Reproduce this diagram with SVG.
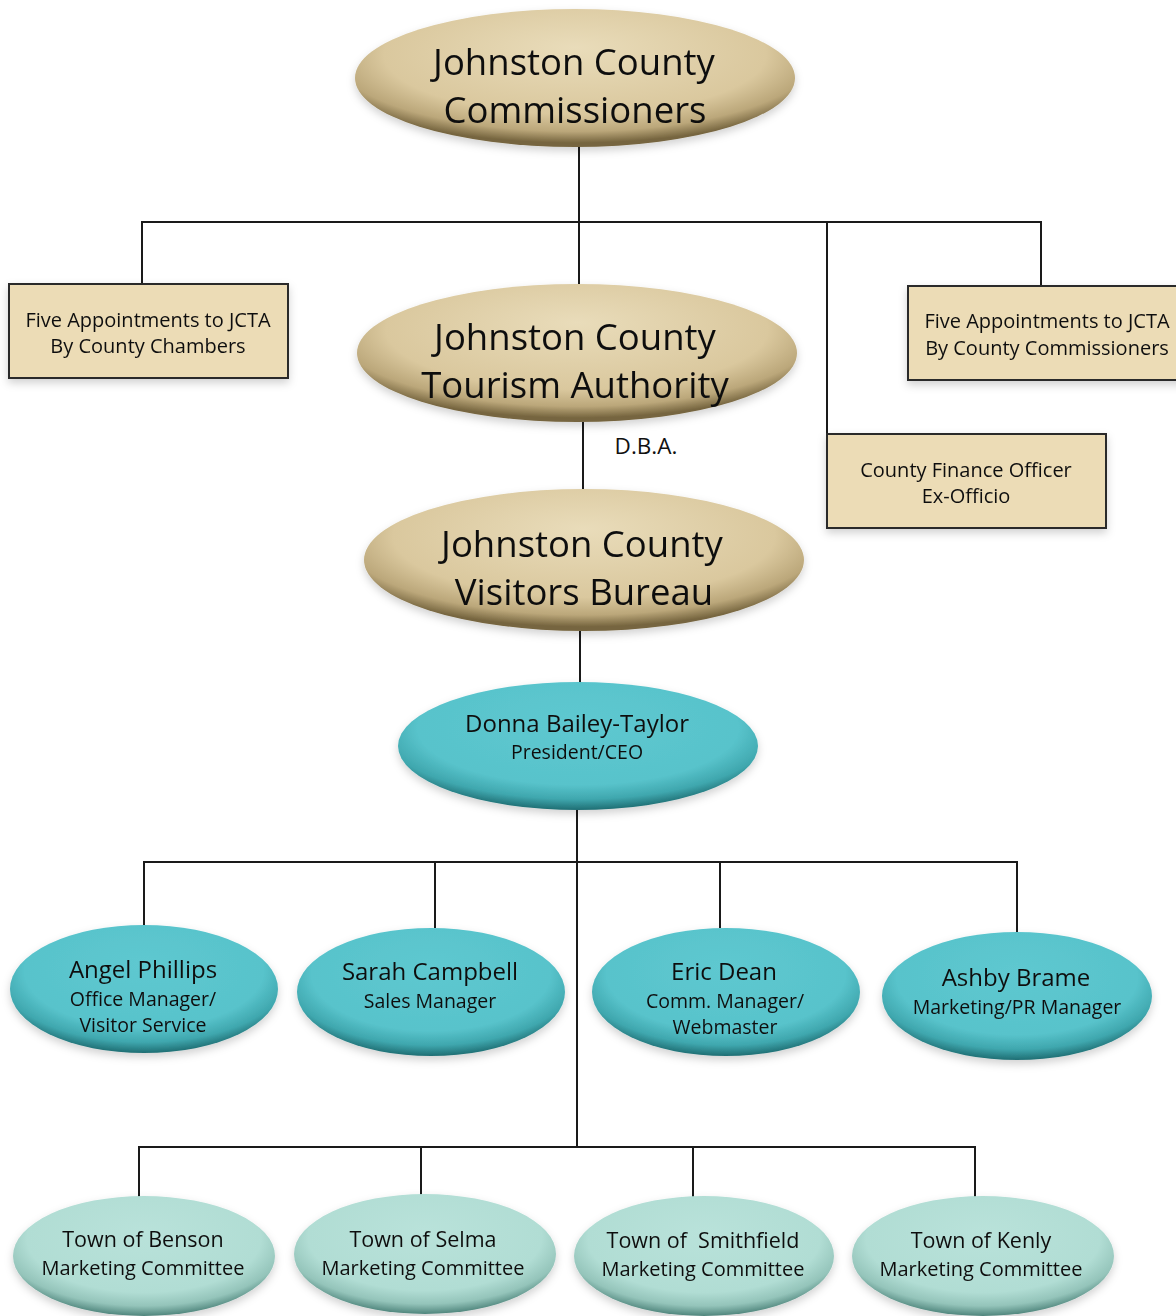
<svg xmlns="http://www.w3.org/2000/svg" width="1176" height="1316" viewBox="0 0 1176 1316">
<defs>
<radialGradient id="gTan" cx="0.5" cy="0.35" r="0.62" fx="0.5" fy="0.28">
<stop offset="0" stop-color="#e9dcba"/>
<stop offset="0.7" stop-color="#dac89e"/>
<stop offset="0.88" stop-color="#bba77a"/>
<stop offset="1" stop-color="#76653f"/>
</radialGradient>
<radialGradient id="gCyan" cx="0.5" cy="0.38" r="0.62" fx="0.5" fy="0.3">
<stop offset="0" stop-color="#5ec8d0"/>
<stop offset="0.72" stop-color="#58c3cb"/>
<stop offset="0.88" stop-color="#3fa7ae"/>
<stop offset="1" stop-color="#1f6e73"/>
</radialGradient>
<radialGradient id="gTeal" cx="0.5" cy="0.38" r="0.62" fx="0.5" fy="0.3">
<stop offset="0" stop-color="#b9e2da"/>
<stop offset="0.72" stop-color="#b1ddd4"/>
<stop offset="0.88" stop-color="#94c4ba"/>
<stop offset="1" stop-color="#4f857c"/>
</radialGradient>
<filter id="sh" x="-10%" y="-10%" width="120%" height="130%">
<feDropShadow dx="0" dy="4" stdDeviation="4" flood-color="#000" flood-opacity="0.18"/>
</filter>
</defs>
<style>
.ln{stroke:#1a1a1a;stroke-width:2;fill:none}
.box{fill:#ecdcb6;stroke:#2a2a2a;stroke-width:2}
.tan{fill:url(#gTan)}
.cy{fill:url(#gCyan)}
.tl{fill:url(#gTeal)}
text{font-family:"Open Sans","Noto Sans","Liberation Sans",sans-serif;fill:#111;text-anchor:middle}
.big{font-size:36.5px}
.bx{font-size:20px}
.nm{font-size:24px}
.rl{font-size:19.5px}
.tn{font-size:21.5px}
.mc{font-size:20px}
</style>
<rect width="1176" height="1316" fill="#ffffff"/>
<g id="connectors">
<path class="ln" d="M579 146V284M142 284V222H1041V286M827 222V434"/>
<path class="ln" d="M583 422V489"/>
<path class="ln" d="M580 631V683"/>
<path class="ln" d="M577 810V1147M144 926V862H1017V932M435 862V928M720 862V928"/>
<path class="ln" d="M139 1198V1147H975V1198M421 1147V1196M693 1147V1198"/>
</g>
<g id="commissioners" filter="url(#sh)">
<ellipse class="tan" cx="575" cy="78" rx="220" ry="69"/>
<text class="big" x="574" y="75">Johnston County</text>
<text class="big" x="575" y="123">Commissioners</text>
</g>
<g id="chambers" filter="url(#sh)">
<rect class="box" x="9" y="284" width="279" height="94"/>
<text class="bx" x="148" y="327">Five Appointments to JCTA</text>
<text class="bx" x="148" y="353">By County Chambers</text>
</g>
<g id="commissioners-appointments" filter="url(#sh)">
<rect class="box" x="908" y="286" width="280" height="94"/>
<text class="bx" x="1047" y="328">Five Appointments to JCTA</text>
<text class="bx" x="1047" y="355">By County Commissioners</text>
</g>
<g id="finance" filter="url(#sh)">
<rect class="box" x="827" y="434" width="279" height="94"/>
<text class="bx" x="966" y="477">County Finance Officer</text>
<text class="bx" x="966" y="503">Ex-Officio</text>
</g>
<g id="tourism" filter="url(#sh)">
<ellipse class="tan" cx="577" cy="353" rx="220" ry="69"/>
<text class="big" x="575" y="350">Johnston County</text>
<text class="big" x="575" y="398">Tourism Authority</text>
</g>
<text id="dba" x="646" y="454" style="font-size:22.5px">D.B.A.</text>
<g id="visitors" filter="url(#sh)">
<ellipse class="tan" cx="584" cy="560" rx="220" ry="71"/>
<text class="big" x="582" y="557">Johnston County</text>
<text class="big" x="584" y="605">Visitors Bureau</text>
</g>
<g id="donna" filter="url(#sh)">
<ellipse class="cy" cx="578" cy="746" rx="180" ry="64"/>
<text class="nm" x="577" y="732">Donna Bailey-Taylor</text>
<text class="rl" x="577" y="759">President/CEO</text>
</g>
<g id="angel" filter="url(#sh)">
<ellipse class="cy" cx="144" cy="989" rx="134" ry="64"/>
<text class="nm" x="143" y="978">Angel Phillips</text>
<text class="rl" x="143" y="1006">Office Manager/</text>
<text class="rl" x="143" y="1032">Visitor Service</text>
</g>
<g id="sarah" filter="url(#sh)">
<ellipse class="cy" cx="431" cy="992" rx="134" ry="64"/>
<text class="nm" x="430" y="980">Sarah Campbell</text>
<text class="rl" x="430" y="1008">Sales Manager</text>
</g>
<g id="eric" filter="url(#sh)">
<ellipse class="cy" cx="726" cy="992" rx="134" ry="64"/>
<text class="nm" x="724" y="980">Eric Dean</text>
<text class="rl" x="725" y="1008">Comm. Manager/</text>
<text class="rl" x="725" y="1034">Webmaster</text>
</g>
<g id="ashby" filter="url(#sh)">
<ellipse class="cy" cx="1017" cy="996" rx="135" ry="64"/>
<text class="nm" x="1016" y="986">Ashby Brame</text>
<text class="rl" x="1017" y="1014">Marketing/PR Manager</text>
</g>
<g id="benson" filter="url(#sh)">
<ellipse class="tl" cx="144" cy="1256" rx="131" ry="60"/>
<text class="tn" x="143" y="1247">Town of Benson</text>
<text class="mc" x="143" y="1275">Marketing Committee</text>
</g>
<g id="selma" filter="url(#sh)">
<ellipse class="tl" cx="425" cy="1254" rx="131" ry="60"/>
<text class="tn" x="423" y="1247">Town of Selma</text>
<text class="mc" x="423" y="1275">Marketing Committee</text>
</g>
<g id="smithfield" filter="url(#sh)">
<ellipse class="tl" cx="704" cy="1256" rx="130" ry="60"/>
<text class="tn" x="703" y="1248" style="white-space:pre">Town of  Smithfield</text>
<text class="mc" x="703" y="1276">Marketing Committee</text>
</g>
<g id="kenly" filter="url(#sh)">
<ellipse class="tl" cx="983" cy="1256" rx="131" ry="60"/>
<text class="tn" x="981" y="1248">Town of Kenly</text>
<text class="mc" x="981" y="1276">Marketing Committee</text>
</g>
</svg>
